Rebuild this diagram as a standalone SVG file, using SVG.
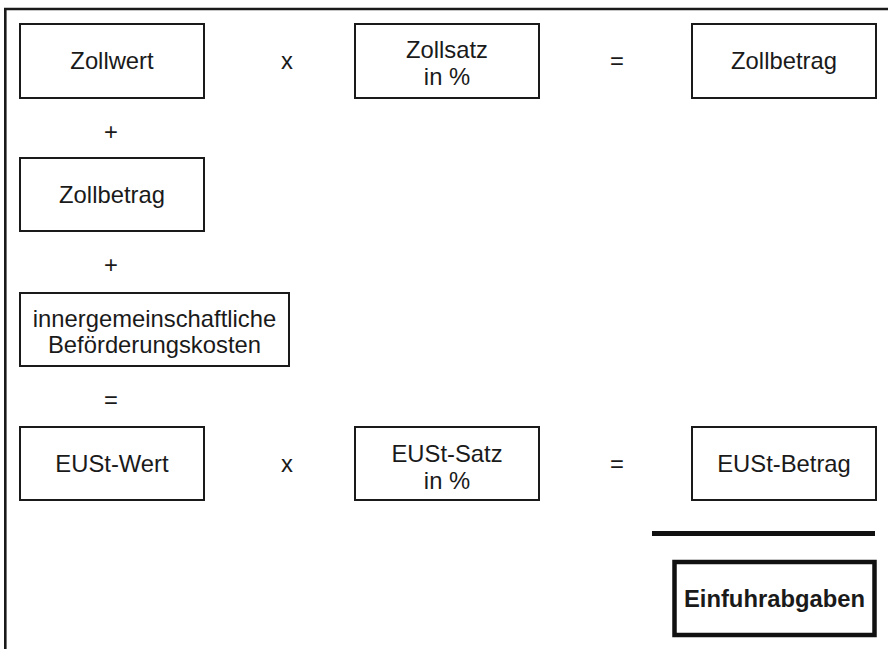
<svg xmlns="http://www.w3.org/2000/svg" width="888" height="649" viewBox="0 0 888 649">
<style>
.box{fill:#fff;stroke:#1a1a1a;stroke-width:2}
.bold{fill:#fff;stroke:#111;stroke-width:4.5}
text{font-family:"Liberation Sans",Arial,sans-serif;font-size:23.8px;fill:#1a1a1a;text-anchor:middle}
.b{font-weight:bold}
.frame{fill:none;stroke:#1a1a1a;stroke-width:2.6}
</style>
<rect width="888" height="649" fill="#fff"/>
<path class="frame" d="M5.3,649 V9 H888"/>
<g id="zollwert"><rect class="box" x="20" y="24" width="184" height="74"/><text x="112" y="69">Zollwert</text></g>
<g id="zollsatz"><rect class="box" x="355" y="24" width="184" height="74"/><text x="447" y="58">Zollsatz</text><text x="447" y="85">in %</text></g>
<g id="zollbetrag1"><rect class="box" x="692" y="24" width="184" height="74"/><text x="784" y="69">Zollbetrag</text></g>
<g id="zollbetrag2"><rect class="box" x="20" y="158" width="184" height="73"/><text x="112" y="203">Zollbetrag</text></g>
<g id="befoerderung"><rect class="box" x="20" y="293" width="269" height="73"/><text x="154.5" y="326.5">innergemeinschaftliche</text><text x="154.5" y="352.5">Beförderungskosten</text></g>
<g id="eustwert"><rect class="box" x="20" y="427" width="184" height="73"/><text x="112" y="472">EUSt-Wert</text></g>
<g id="eustsatz"><rect class="box" x="355" y="427" width="184" height="73"/><text x="447" y="462">EUSt-Satz</text><text x="447" y="489">in %</text></g>
<g id="eustbetrag"><rect class="box" x="692" y="427" width="184" height="73"/><text x="784" y="472">EUSt-Betrag</text></g>
<g id="einfuhrabgaben"><rect class="bold" x="674.5" y="562" width="200" height="73"/><text class="b" x="774.5" y="607">Einfuhrabgaben</text></g>
<g id="connectors">
<text x="287" y="69">x</text>
<text x="617" y="69">=</text>
<text x="111" y="140">+</text>
<text x="111" y="273">+</text>
<text x="111" y="408">=</text>
<text x="287" y="472">x</text>
<text x="617" y="472">=</text>
<line x1="652" y1="533.5" x2="875" y2="533.5" stroke="#111" stroke-width="5"/>
</g>
</svg>
